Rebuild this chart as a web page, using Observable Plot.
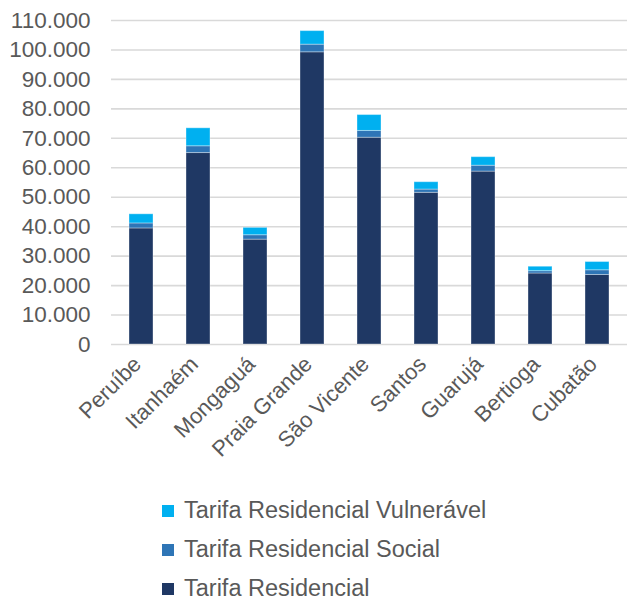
<!DOCTYPE html>
<html>
<head>
<meta charset="utf-8">
<script src="https://cdn.jsdelivr.net/npm/d3@7"></script>
<script src="https://cdn.jsdelivr.net/npm/@observablehq/plot@0.6"></script>
<style>
  body { margin: 0; background: #fff; font-family: "Liberation Sans", Arial, sans-serif; }
  #chart svg { display: block; }
  #legend { margin-left: 162px; margin-top: 1px; }
  .item { display: flex; align-items: center; height: 39px; font-size: 23.5px; color: #595959; }
  .sw { width: 12px; height: 12px; margin-right: 10px; }
</style>
</head>
<body>
<div id="chart"></div>
<div id="legend"></div>
<script>
const cities = ["Peruíbe", "Itanhaém", "Mongaguá", "Praia Grande", "São Vicente", "Santos", "Guarujá", "Bertioga", "Cubatão"];
const residencial = [39400, 65000, 35600, 99200, 70200, 51500, 58700, 24100, 23600];
const social = [1700, 2300, 1500, 2600, 2300, 1100, 2000, 800, 1600];
const vulneravel = [3100, 6100, 2500, 4600, 5400, 2500, 2900, 1500, 2800];
const seriesNames = ["Tarifa Residencial", "Tarifa Residencial Social", "Tarifa Residencial Vulnerável"];
const seriesColors = ["#1F3864", "#2E75B6", "#00B0F0"];
const yTicks = [0, 10000, 20000, 30000, 40000, 50000, 60000, 70000, 80000, 90000, 100000, 110000];

const seriesValues = [residencial, social, vulneravel];
const data = [];
seriesNames.forEach((s, si) => {
  cities.forEach((c, ci) => data.push({city: c, serie: s, value: seriesValues[si][ci]}));
});

const loc = d3.formatLocale({decimal: ",", thousands: ".", grouping: [3], currency: ["R$", ""]});
const fmt = loc.format(",");

const chart = Plot.plot({
  width: 627,
  height: 490,
  marginTop: 20,
  marginBottom: 146,
  marginLeft: 111,
  marginRight: 0,
  style: {fontFamily: "'Liberation Sans', Arial, sans-serif", fontSize: "22px", color: "#595959", background: "#fff"},
  x: {domain: cities, paddingInner: 0.58, paddingOuter: 0.29, label: null},
  y: {domain: [0, 110000], label: null},
  color: {domain: seriesNames, range: seriesColors},
  marks: [
    Plot.ruleY(yTicks, {stroke: "#D9D9D9", strokeWidth: 1.6}),
    Plot.barY(data, {x: "city", y: "value", fill: "serie", stroke: "white", strokeOpacity: 0.35, strokeWidth: 1}),
    Plot.axisY({ticks: yTicks, tickFormat: fmt, tickSize: 0, tickPadding: 21, fontSize: 22.5, fill: "#595959", label: null}),
    Plot.axisX({tickRotate: -45, tickSize: 0, tickPadding: 10, dx: -4, dy: 6, fontSize: 22, fill: "#595959", label: null})
  ]
});
document.getElementById("chart").appendChild(chart);

const legend = document.getElementById("legend");
[2, 1, 0].forEach(i => {
  const d = document.createElement("div");
  d.className = "item";
  d.innerHTML = `<span class="sw" style="background:${seriesColors[i]}"></span><span>${seriesNames[i]}</span>`;
  legend.appendChild(d);
});
</script>
</body>
</html>
